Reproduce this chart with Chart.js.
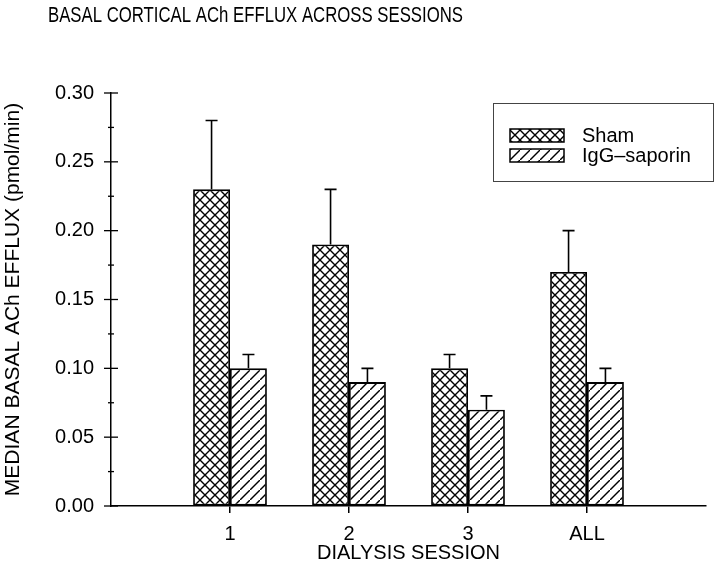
<!DOCTYPE html>
<html>
<head>
<meta charset="utf-8">
<script src="https://cdn.jsdelivr.net/npm/chart.js@4.4.1/dist/chart.umd.min.js"></script>
<style>
  body { margin: 0; background: #fff; }
  canvas { display: block; }
</style>
</head>
<body>
<canvas id="achChart" width="720" height="568"></canvas>
<script>
// Data
const sessions = ['1', '2', '3', 'ALL'];
const shamMedian = [0.23, 0.19, 0.10, 0.17];
const shamUpper = [0.28, 0.23, 0.11, 0.20];
const iggMedian = [0.10, 0.09, 0.07, 0.09];
const iggUpper = [0.11, 0.10, 0.08, 0.10];
const yTicks = [0, 0.05, 0.10, 0.15, 0.20, 0.25, 0.30];

const FONT = "'Liberation Sans', Arial, sans-serif";

// hatch fills
function makeHatch(cross) {
    const size = 10;
    const c = document.createElement('canvas');
    c.width = size; c.height = size;
    const g = c.getContext('2d');
    g.fillStyle = '#fff';
    g.fillRect(0, 0, size, size);
    g.strokeStyle = '#000';
    g.lineWidth = 1.4;
    g.beginPath();
    g.moveTo(-1, size + 1); g.lineTo(size + 1, -1);
    if (cross) {
        g.moveTo(-1, -1); g.lineTo(size + 1, size + 1);
    }
    g.stroke();
    return g.createPattern(c, 'repeat');
}
const crossFill = makeHatch(true);
const diagFill = makeHatch(false);

// pad with empty slots so the axis runs past the outer groups
const labels = [''].concat(sessions, ['']);
const pad = arr => [null].concat(arr, [null]);

// error bars (upper only) + crossing y ticks + title + legend box
const extrasPlugin = {
    id: 'extras',
    afterDatasetsDraw(chart) {
        const ctx = chart.ctx;
        const y = chart.scales.y;
        const uppers = [shamUpper, iggUpper];
        ctx.save();
        ctx.strokeStyle = '#000';
        ctx.lineWidth = 1.6;
        chart.data.datasets.forEach((ds, di) => {
            const meta = chart.getDatasetMeta(di);
            meta.data.forEach((bar, i) => {
                const k = i - 1;
                if (k < 0 || k >= sessions.length) return;
                const top = y.getPixelForValue(uppers[di][k]);
                ctx.beginPath();
                ctx.moveTo(bar.x, bar.y);
                ctx.lineTo(bar.x, top);
                ctx.moveTo(bar.x - 6, top);
                ctx.lineTo(bar.x + 6, top);
                ctx.stroke();
            });
        });
        ctx.restore();
    },
    afterDraw(chart) {
        const ctx = chart.ctx;
        const y = chart.scales.y;
        const ax = chart.chartArea.left;
        ctx.save();
        ctx.strokeStyle = '#000';
        ctx.lineWidth = 1.3;
        for (let i = 0; i <= 12; i++) {
            const py = y.getPixelForValue(i * 0.025);
            const half = i % 2 === 0 ? 7 : 3;
            ctx.beginPath();
            ctx.moveTo(ax - half, py);
            ctx.lineTo(ax + half, py);
            ctx.stroke();
        }

        // title
        ctx.fillStyle = '#000';
        ctx.font = '22px ' + FONT;
        ctx.textBaseline = 'alphabetic';
        ctx.textAlign = 'left';
        ctx.fillText('BASAL CORTICAL ACh EFFLUX ACROSS SESSIONS', 48, 22, 415);

        // legend
        ctx.strokeStyle = '#444';
        ctx.lineWidth = 1;
        ctx.strokeRect(493.5, 103.5, 220, 78);
        const fills = [crossFill, diagFill];
        chart.data.datasets.forEach((ds, di) => {
            const top = 129 + di * 20;
            ctx.fillStyle = fills[di];
            ctx.fillRect(510, top, 54, 13);
            ctx.strokeStyle = '#000';
            ctx.lineWidth = 1.5;
            ctx.strokeRect(510, top, 54, 13);
            ctx.fillStyle = '#000';
            ctx.font = '20px ' + FONT;
            ctx.textBaseline = 'middle';
            ctx.fillText(ds.label, 582, top + 7);
        });
        ctx.restore();
    }
};

const ctx = document.getElementById('achChart').getContext('2d');
const chart = new Chart(ctx, {
    type: 'bar',
    data: {
        labels: labels,
        datasets: [{
            label: 'Sham',
            data: pad(shamMedian),
            backgroundColor: crossFill,
            borderColor: '#000',
            borderWidth: 1.8,
            borderSkipped: false
        }, {
            label: 'IgG\u2013saporin',
            data: pad(iggMedian),
            backgroundColor: diagFill,
            borderColor: '#000',
            borderWidth: 1.8,
            borderSkipped: false
        }]
    },
    options: {
        responsive: false,
        animation: false,
        categoryPercentage: 0.62,
        barPercentage: 1.0,
        layout: { padding: { top: 93, right: 14, bottom: 0, left: 0 } },
        plugins: {
            legend: { display: false },
            title: { display: false },
            tooltip: { enabled: false }
        },
        scales: {
            x: {
                offset: false,
                afterFit: s => { s.height = 62; },
                grid: {
                    offset: false,
                    drawOnChartArea: false,
                    drawTicks: true,
                    tickLength: 7,
                    lineWidth: 1.5,
                    color: c => (c.index === 0 || c.index === labels.length - 1) ? 'rgba(0,0,0,0)' : '#000'
                },
                border: { display: true, color: '#000', width: 1.5 },
                ticks: {
                    color: '#000',
                    padding: 9,
                    maxRotation: 0,
                    autoSkip: false,
                    font: { family: FONT, size: 20 }
                },
                title: {
                    display: true,
                    text: 'DIALYSIS SESSION',
                    color: '#000',
                    padding: { top: 0, bottom: 3 },
                    font: { family: FONT, size: 20 }
                }
            },
            y: {
                min: 0,
                max: 0.30,
                afterFit: s => { s.width = 111; },
                afterBuildTicks: s => { s.ticks = yTicks.map(v => ({ value: v })); },
                grid: { display: true, drawOnChartArea: false, drawTicks: false },
                border: { display: true, color: '#000', width: 1.5 },
                ticks: {
                    color: '#000',
                    padding: 17,
                    font: { family: FONT, size: 20 },
                    callback: v => Number(v).toFixed(2)
                },
                title: {
                    display: true,
                    text: 'MEDIAN BASAL ACh EFFLUX (pmol/min)',
                    color: '#000',
                    padding: { top: 1, bottom: 0 },
                    font: { family: FONT, size: 21 }
                }
            }
        }
    },
    plugins: [extrasPlugin]
});
</script>
</body>
</html>
